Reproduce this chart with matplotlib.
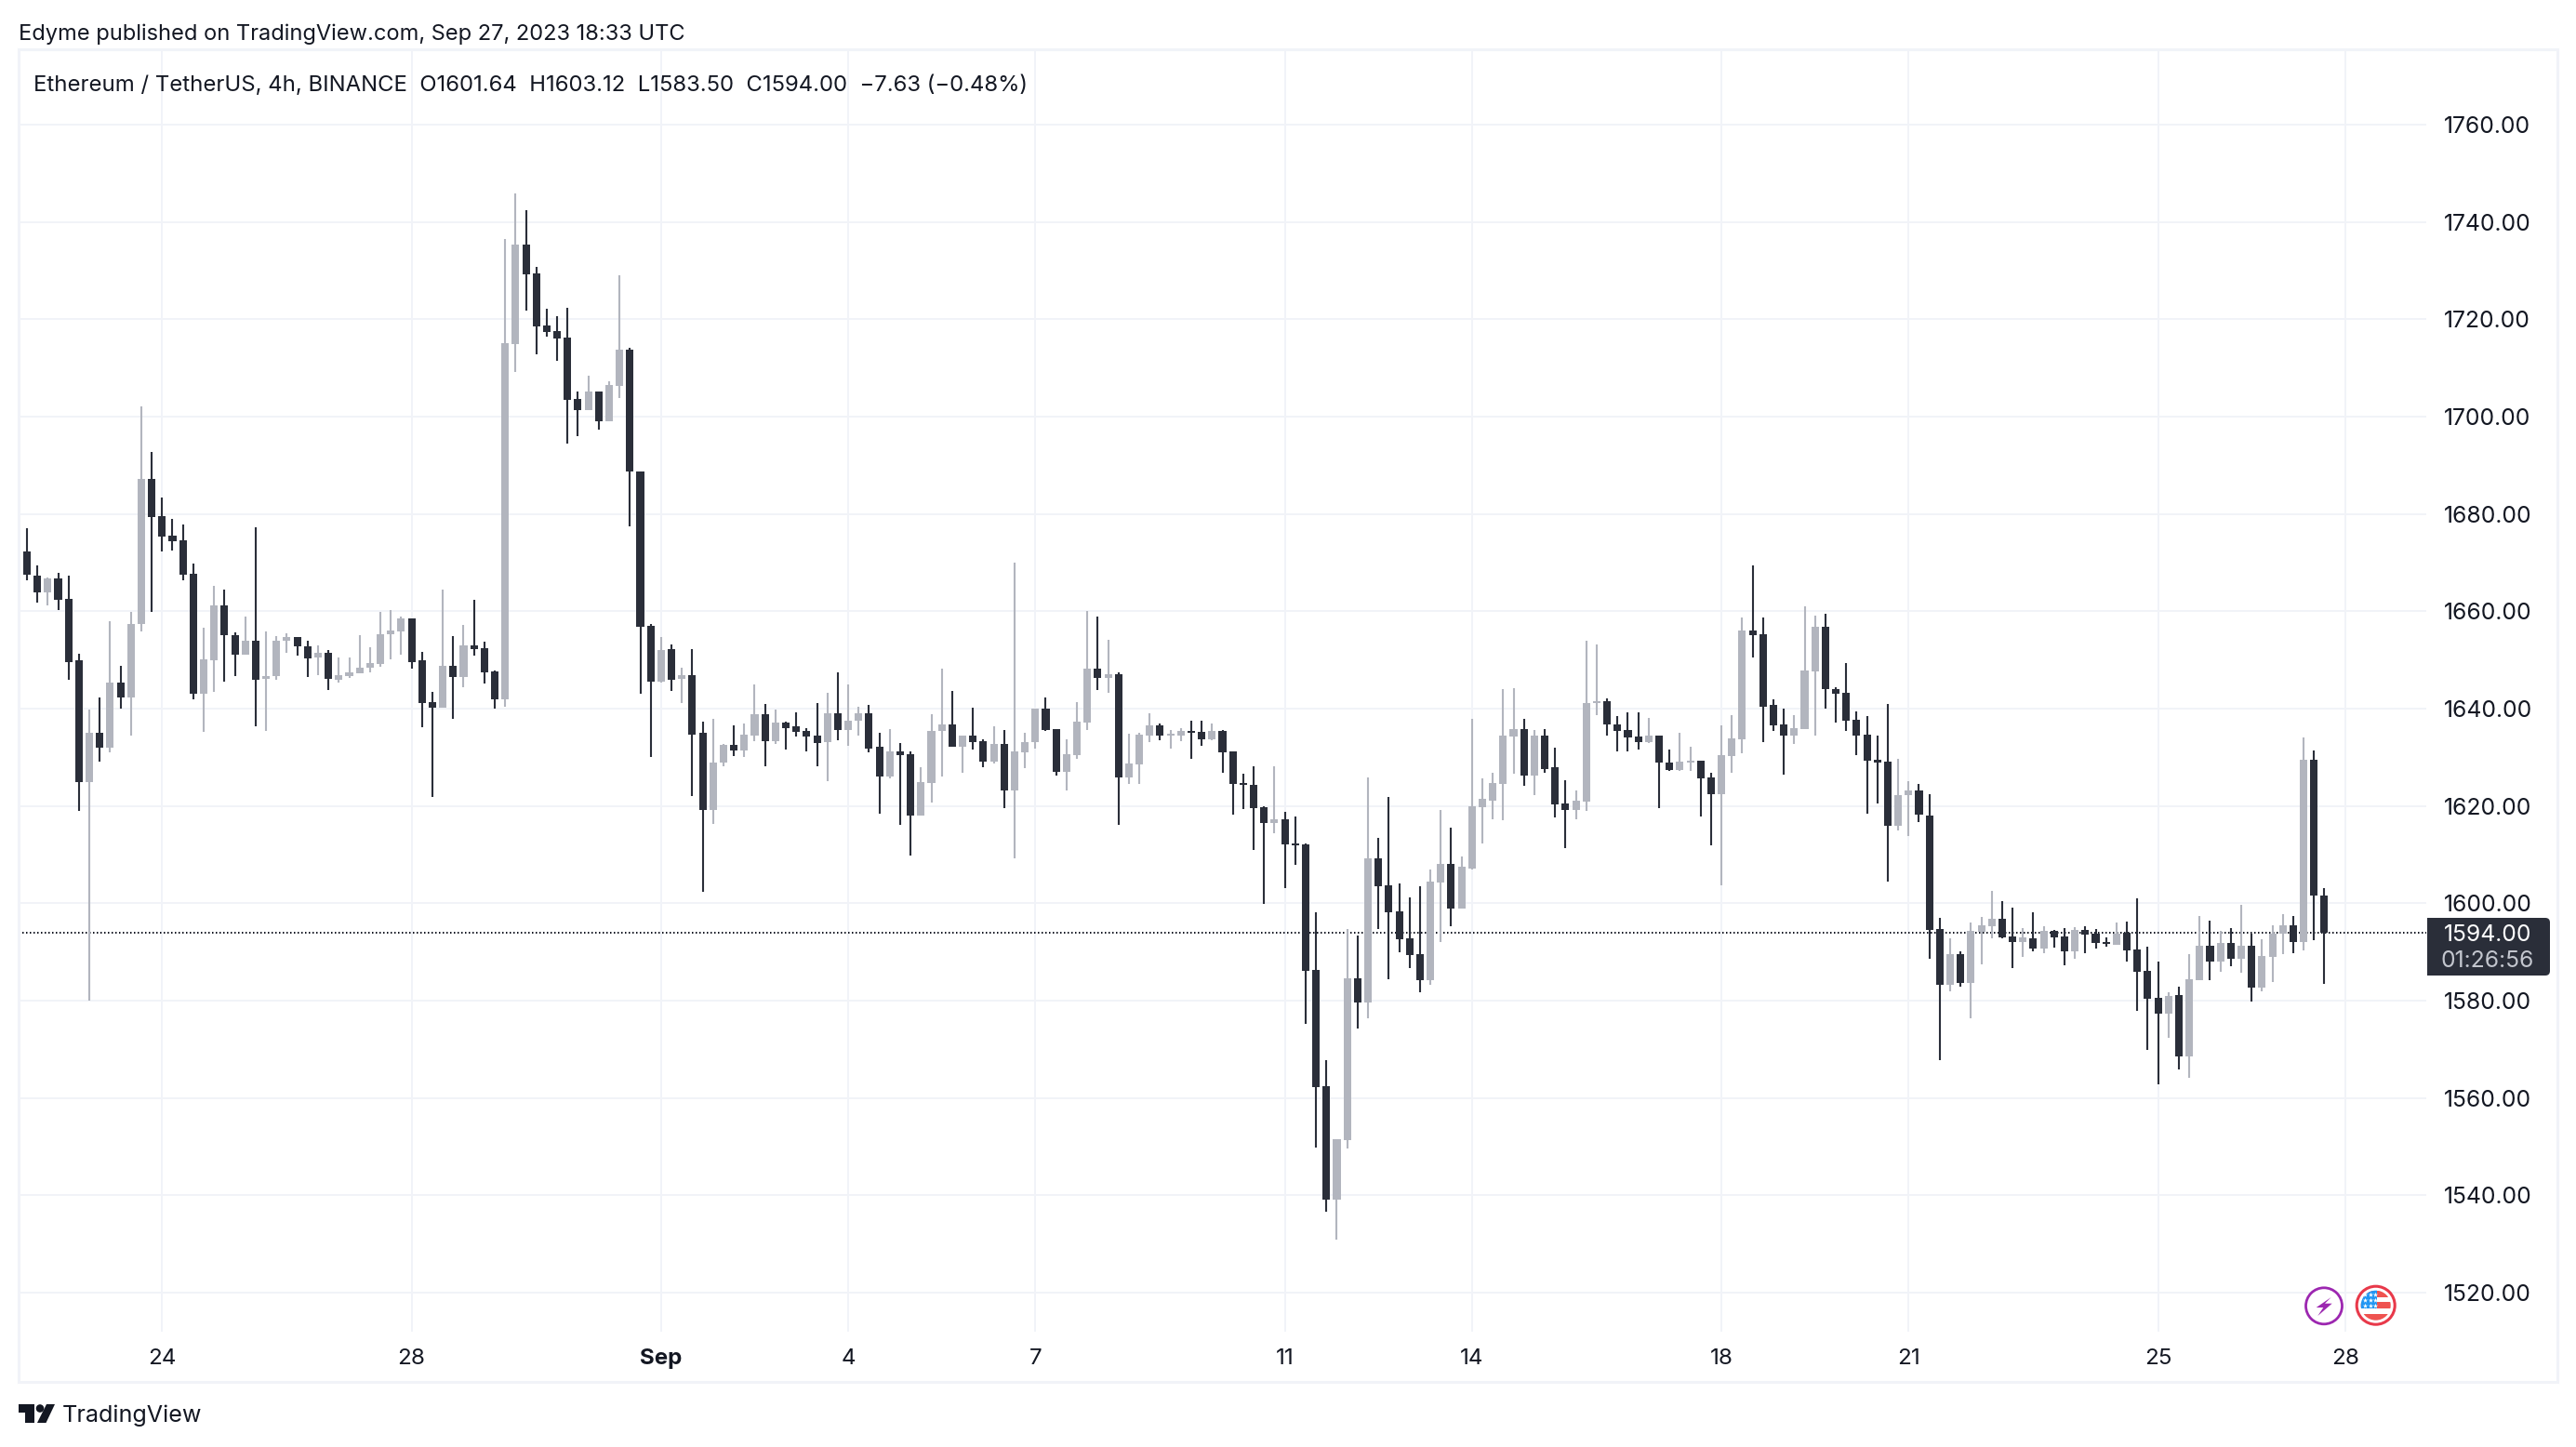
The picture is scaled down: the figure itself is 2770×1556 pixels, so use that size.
import numpy as np
import matplotlib
matplotlib.use('Agg')
import matplotlib.pyplot as plt
from matplotlib.patches import Circle, Polygon, Rectangle, FancyBboxPatch

plt.rcParams['font.family'] = ['Inter', 'DejaVu Sans']

# 4h candles, ten bars per row
opens = [
    1657.7, 1672.3, 1667.4, 1664.0, 1666.7, 1662.6, 1649.9, 1625.0, 1635.0, 1632.0,
    1645.3, 1642.4, 1657.4, 1687.3, 1679.6, 1675.6, 1674.7, 1667.8, 1643.1, 1649.9,
    1661.2, 1655.2, 1651.2, 1654.0, 1646.2, 1646.8, 1653.9, 1654.7, 1652.8, 1650.5,
    1651.5, 1646.0, 1646.7, 1647.2, 1648.5, 1649.2, 1655.3, 1655.9, 1658.5, 1649.9,
    1641.3, 1640.2, 1648.8, 1646.6, 1653.1, 1652.5, 1647.6, 1642.0, 1715.0, 1735.4,
    1729.5, 1718.7, 1717.6, 1716.3, 1703.7, 1701.4, 1705.2, 1699.1, 1706.3, 1713.8,
    1688.8, 1657.1, 1645.6, 1652.3, 1646.2, 1646.9, 1635.0, 1619.2, 1629.0, 1632.5,
    1631.4, 1634.5, 1638.8, 1633.4, 1637.2, 1636.3, 1635.5, 1634.4, 1633.1, 1639.0,
    1635.7, 1637.5, 1639.0, 1632.1, 1626.0, 1631.3, 1630.6, 1618.0, 1624.8, 1635.4,
    1636.7, 1632.1, 1634.4, 1633.4, 1629.2, 1632.7, 1623.3, 1631.1, 1633.1, 1640.1,
    1635.9, 1627.1, 1630.4, 1637.1, 1648.2, 1646.4, 1647.0, 1625.8, 1628.5, 1634.4,
    1636.5, 1634.4, 1634.4, 1635.4, 1635.2, 1633.8, 1635.5, 1631.3, 1624.8, 1624.3,
    1619.7, 1616.6, 1617.2, 1612.3, 1612.2, 1586.4, 1562.5, 1539.1, 1551.4, 1584.7,
    1579.6, 1609.3, 1603.8, 1598.4, 1592.9, 1589.6, 1584.2, 1604.3, 1608.1, 1599.0,
    1607.2, 1619.8, 1621.1, 1624.6, 1634.3, 1635.9, 1626.3, 1634.5, 1627.9, 1620.5,
    1619.2, 1621.0, 1641.1, 1641.6, 1636.8, 1635.6, 1634.3, 1633.2, 1634.4, 1629.0,
    1627.5, 1629.0, 1629.4, 1625.8, 1622.4, 1630.2, 1633.8, 1656.0, 1655.4, 1640.7,
    1636.7, 1634.4, 1635.9, 1647.6, 1656.9, 1644.1, 1643.2, 1637.8, 1634.6, 1629.6,
    1629.2, 1616.0, 1622.2, 1623.3, 1618.1, 1594.8, 1583.3, 1589.6, 1583.7, 1594.2,
    1595.4, 1596.9, 1593.2, 1592.1, 1592.9, 1590.8, 1594.4, 1593.2, 1590.2, 1594.6,
    1593.8, 1592.0, 1591.5, 1593.9, 1590.6, 1586.2, 1580.6, 1577.4, 1581.2, 1568.6,
    1584.3, 1591.3, 1588.1, 1591.9, 1588.7, 1591.3, 1582.7, 1589.0, 1593.8, 1595.5,
    1592.1, 1629.6, 1601.64,
]
highs = [
    1672.3, 1677.0, 1669.5, 1667.0, 1667.9, 1667.4, 1651.3, 1639.9, 1642.4, 1658.0,
    1648.8, 1659.9, 1702.2, 1692.7, 1683.4, 1679.0, 1677.9, 1669.8, 1656.6, 1665.2,
    1664.4, 1655.7, 1659.0, 1677.3, 1655.8, 1654.9, 1655.5, 1654.8, 1654.0, 1653.0,
    1652.0, 1650.6, 1650.6, 1655.2, 1652.7, 1659.9, 1660.3, 1658.9, 1658.5, 1651.6,
    1643.5, 1664.4, 1655.0, 1657.2, 1662.4, 1653.7, 1647.8, 1736.5, 1745.8, 1742.5,
    1730.8, 1722.2, 1720.6, 1722.3, 1705.2, 1708.4, 1705.2, 1707.2, 1729.0, 1714.1,
    1688.8, 1657.4, 1654.7, 1653.2, 1648.4, 1652.3, 1637.3, 1638.0, 1632.7, 1636.5,
    1637.0, 1645.0, 1640.9, 1639.8, 1637.3, 1639.2, 1636.0, 1641.1, 1643.3, 1647.5,
    1644.9, 1640.5, 1640.7, 1635.0, 1635.9, 1632.9, 1631.3, 1627.9, 1638.8, 1648.2,
    1643.6, 1634.4, 1640.3, 1633.8, 1636.3, 1635.7, 1670.1, 1635.0, 1640.1, 1642.4,
    1635.9, 1633.8, 1641.3, 1660.0, 1659.0, 1654.1, 1647.5, 1634.8, 1635.1, 1639.0,
    1637.0, 1635.7, 1636.0, 1637.5, 1637.5, 1636.9, 1635.7, 1631.3, 1626.6, 1628.2,
    1619.9, 1628.2, 1618.8, 1617.8, 1612.4, 1598.2, 1567.8, 1551.6, 1594.7, 1593.4,
    1625.9, 1613.5, 1621.9, 1604.1, 1601.2, 1603.5, 1607.0, 1619.2, 1615.5, 1609.6,
    1638.0, 1625.7, 1626.9, 1644.1, 1644.3, 1637.9, 1635.6, 1635.8, 1632.0, 1625.4,
    1623.3, 1654.0, 1653.2, 1642.1, 1638.5, 1639.2, 1639.2, 1638.2, 1634.4, 1631.7,
    1635.0, 1632.1, 1629.4, 1626.8, 1636.5, 1638.6, 1658.7, 1669.5, 1658.7, 1642.0,
    1640.0, 1638.6, 1661.1, 1659.2, 1659.6, 1644.5, 1649.3, 1639.4, 1638.4, 1634.4,
    1640.9, 1629.8, 1625.2, 1624.6, 1622.5, 1597.1, 1592.9, 1590.2, 1596.1, 1597.3,
    1602.6, 1600.5, 1599.2, 1595.0, 1598.2, 1595.4, 1594.6, 1595.0, 1595.2, 1595.4,
    1594.8, 1593.0, 1596.1, 1596.3, 1601.1, 1591.1, 1588.1, 1581.7, 1582.9, 1589.6,
    1597.5, 1596.5, 1594.3, 1595.0, 1599.7, 1593.8, 1592.7, 1595.5, 1597.8, 1597.4,
    1634.1, 1631.5, 1603.12,
]
lows = [
    1657.7, 1666.4, 1661.8, 1661.3, 1660.3, 1645.9, 1619.0, 1580.1, 1629.1, 1631.0,
    1640.0, 1634.5, 1655.8, 1659.9, 1672.4, 1672.6, 1666.4, 1642.0, 1635.3, 1643.5,
    1645.6, 1646.8, 1651.2, 1636.3, 1635.5, 1645.9, 1651.5, 1650.9, 1646.6, 1646.9,
    1643.9, 1645.4, 1646.3, 1647.2, 1647.5, 1648.6, 1650.1, 1651.2, 1648.3, 1636.2,
    1621.9, 1640.2, 1637.9, 1644.5, 1651.0, 1645.2, 1640.0, 1640.4, 1709.1, 1721.9,
    1712.9, 1716.4, 1711.4, 1694.4, 1696.1, 1701.4, 1697.4, 1699.1, 1703.8, 1677.5,
    1643.1, 1630.0, 1645.3, 1643.6, 1641.2, 1622.0, 1602.4, 1616.3, 1628.1, 1630.3,
    1630.1, 1633.4, 1628.2, 1632.8, 1631.7, 1634.2, 1631.2, 1628.2, 1625.2, 1633.5,
    1632.3, 1634.4, 1631.1, 1618.5, 1625.6, 1616.2, 1609.8, 1618.0, 1620.8, 1626.0,
    1632.1, 1626.9, 1631.7, 1627.9, 1628.7, 1619.5, 1609.2, 1627.7, 1631.9, 1635.4,
    1626.2, 1623.3, 1629.8, 1635.7, 1643.9, 1643.2, 1616.2, 1624.5, 1624.6, 1633.2,
    1633.6, 1631.9, 1633.4, 1629.8, 1632.3, 1633.6, 1626.8, 1618.2, 1619.3, 1611.0,
    1599.9, 1614.4, 1603.2, 1607.9, 1575.3, 1549.9, 1536.7, 1530.9, 1549.6, 1574.3,
    1576.3, 1594.8, 1584.4, 1589.9, 1586.8, 1581.8, 1583.2, 1592.1, 1595.4, 1599.0,
    1607.0, 1612.4, 1617.3, 1617.0, 1626.7, 1624.2, 1622.3, 1626.9, 1617.7, 1611.4,
    1617.3, 1619.1, 1638.7, 1634.4, 1631.3, 1631.3, 1631.7, 1632.9, 1619.5, 1627.3,
    1627.3, 1627.3, 1617.8, 1612.0, 1603.8, 1626.9, 1630.8, 1650.6, 1633.1, 1635.4,
    1626.4, 1632.7, 1635.9, 1634.4, 1640.1, 1637.1, 1635.5, 1630.4, 1618.5, 1620.6,
    1604.4, 1614.9, 1613.8, 1616.8, 1588.7, 1567.7, 1582.0, 1582.9, 1576.4, 1587.5,
    1592.9, 1592.9, 1586.8, 1589.0, 1590.2, 1589.8, 1591.0, 1587.3, 1588.7, 1589.8,
    1590.8, 1591.1, 1591.5, 1588.1, 1578.0, 1569.9, 1562.9, 1572.4, 1565.8, 1564.2,
    1584.3, 1584.3, 1586.0, 1587.1, 1585.7, 1579.9, 1582.0, 1583.9, 1589.6, 1589.8,
    1590.3, 1592.5, 1583.5,
]
closes = [
    1672.3, 1667.5, 1664.0, 1666.7, 1662.4, 1649.6, 1625.0, 1635.0, 1632.0, 1645.3,
    1642.4, 1657.5, 1687.3, 1679.4, 1675.4, 1674.4, 1667.5, 1643.1, 1650.1, 1661.2,
    1655.2, 1651.2, 1654.0, 1646.0, 1646.8, 1653.9, 1654.8, 1652.8, 1650.4, 1651.4,
    1646.2, 1646.9, 1647.4, 1648.5, 1649.3, 1655.3, 1656.0, 1658.5, 1649.6, 1641.2,
    1640.2, 1648.8, 1646.6, 1653.1, 1652.2, 1647.4, 1642.0, 1715.1, 1735.4, 1729.2,
    1718.6, 1717.4, 1716.0, 1703.5, 1701.4, 1705.2, 1699.1, 1706.5, 1713.8, 1688.8,
    1656.9, 1645.6, 1652.1, 1646.0, 1646.9, 1634.7, 1619.2, 1629.0, 1632.5, 1631.4,
    1634.7, 1638.8, 1633.4, 1637.1, 1636.1, 1635.3, 1634.2, 1633.0, 1639.0, 1635.7,
    1637.6, 1639.0, 1631.9, 1626.0, 1631.3, 1630.4, 1618.0, 1625.0, 1635.5, 1636.7,
    1632.1, 1634.4, 1633.2, 1629.2, 1632.7, 1623.3, 1631.3, 1633.2, 1640.1, 1635.7,
    1627.1, 1630.6, 1637.3, 1648.2, 1646.4, 1647.0, 1625.8, 1628.7, 1634.6, 1636.5,
    1634.4, 1634.8, 1635.4, 1635.0, 1633.8, 1635.5, 1631.1, 1624.6, 1624.3, 1619.6,
    1616.5, 1617.2, 1612.1, 1612.0, 1586.2, 1562.3, 1539.1, 1551.6, 1584.7, 1579.6,
    1609.3, 1603.5, 1598.2, 1592.7, 1589.4, 1584.2, 1604.5, 1608.1, 1599.0, 1607.5,
    1620.0, 1621.4, 1624.8, 1634.5, 1635.9, 1626.3, 1634.5, 1627.6, 1620.4, 1619.2,
    1621.1, 1641.2, 1641.6, 1636.7, 1635.4, 1634.1, 1633.1, 1634.4, 1628.9, 1627.5,
    1629.2, 1629.4, 1625.6, 1622.4, 1630.4, 1634.0, 1656.0, 1655.2, 1640.5, 1636.5,
    1634.4, 1636.1, 1647.8, 1656.9, 1644.0, 1643.0, 1637.6, 1634.4, 1629.4, 1629.0,
    1616.0, 1622.2, 1623.3, 1618.2, 1594.6, 1583.3, 1589.6, 1583.7, 1594.4, 1595.5,
    1596.9, 1593.1, 1592.1, 1593.1, 1590.8, 1594.4, 1593.1, 1590.2, 1594.6, 1593.6,
    1591.9, 1591.6, 1593.8, 1590.4, 1586.0, 1580.4, 1577.4, 1581.0, 1568.6, 1584.5,
    1591.3, 1588.1, 1591.9, 1588.7, 1591.3, 1582.7, 1589.2, 1593.8, 1595.5, 1592.1,
    1629.6, 1601.64, 1594.0,
]

price_ticks = [1520, 1540, 1560, 1580, 1600, 1620, 1640, 1660, 1680, 1700, 1720, 1740, 1760]
date_bars = [14, 38, 62, 80, 98, 122, 140, 164, 182, 206, 224]  # bar number of midnight on each labelled day
date_labels = ['24', '28', 'Sep', '4', '7', '11', '14', '18', '21', '25', '28']
last_price = 1594.00
countdown = '01:26:56'
byline = 'Edyme published on TradingView.com, Sep 27, 2023 18:33 UTC'
legend_text = ('Ethereum / TetherUS, 4h, BINANCE  O1601.64  H1603.12  L1583.50  C1594.00'
               '  \u22127.63 (\u22120.48%)')

UP = '#b2b5be'
DOWN = '#2a2e39'
GRID = '#f1f3f8'
INK = '#131722'

W, H = 2770, 1556
fig = plt.figure(figsize=(W / 100, H / 100), dpi=100, facecolor='white')

# pane in pixels: left 20, right 2609, top 53, bottom 1432
ax = fig.add_axes([20 / W, 1 - 1432 / H, (2609 - 20) / W, (1432 - 53) / H])
ax.set_xlim(0.197, 231.8)
ax.set_ylim(1512.0, 1775.5)
for s in ax.spines.values():
    s.set_visible(False)

ax.set_yticks(price_ticks)
ax.set_yticklabels(['%.2f' % p for p in price_ticks], fontsize=17.8, color=INK)
ax.yaxis.tick_right()
ax.set_xticks(date_bars)
ax.set_xticklabels(date_labels, fontsize=17.4, color=INK)
ax.xaxis.get_ticklabels()[2].set_fontweight('bold')
ax.tick_params(axis='both', length=0)
ax.tick_params(axis='y', pad=13.5)
ax.tick_params(axis='x', pad=13)
ax.grid(True, color=GRID, linewidth=1.44)
ax.set_axisbelow(True)

bars = np.arange(len(opens))
o, h, l, c = map(np.array, (opens, highs, lows, closes))
colors = [UP if c[i] >= o[i] else DOWN for i in bars]

ax.axhline(last_price, color=INK, linewidth=1.44, linestyle=(0, (0.75, 1.25)), zorder=1.5)
ax.vlines(bars, l, h, colors=colors, linewidth=1.5, zorder=2)
ax.bar(bars, np.abs(c - o), bottom=np.minimum(o, c), width=0.72, color=colors, linewidth=0, zorder=3)

# everything around the pane, in pixel coordinates
ov = fig.add_axes([0, 0, 1, 1], zorder=5)
ov.set_xlim(0, W)
ov.set_ylim(H, 0)
ov.axis('off')

ov.add_patch(Rectangle((20, 53), 2730, 1433, fill=False, edgecolor=GRID, linewidth=2.2))
ov.text(20, 37, byline, fontsize=17.0, color=INK, va='center', ha='left')
ov.text(36, 92, legend_text, fontsize=17.2, color=INK, va='center', ha='left')

# last price badge
ov.add_patch(FancyBboxPatch((2612, 989), 128, 58, boxstyle='round,pad=2,rounding_size=5',
                            facecolor=DOWN, edgecolor='none'))
ov.add_patch(Rectangle((2610, 987), 10, 62, facecolor=DOWN, edgecolor='none'))
ov.text(2675, 1005.5, '%.2f' % last_price, fontsize=17.8, color='white', va='center', ha='center')
ov.text(2675, 1033, countdown, fontsize=17.8, color='#c3c6ce', va='center', ha='center')

# lightning icon
ov.add_patch(Circle((2499, 1404.3), 19.5, facecolor='white', edgecolor='#9c27b0', linewidth=2))
ov.add_patch(Polygon([(2506.7, 1395), (2490.7, 1406), (2498.3, 1406), (2492.3, 1415),
                      (2507.7, 1401.7), (2500, 1401.7)], closed=True, facecolor='#9c27b0', edgecolor='none'))

# US flag icon
ov.add_patch(Circle((2554.7, 1403.7), 20.5, facecolor='white', edgecolor='#e8394a', linewidth=2.2))
flag_clip = Circle((2554.7, 1403.7), 16, transform=ov.transData)
for y0, y1 in [(1388, 1395), (1400, 1407), (1413, 1420)]:
    stripe = Rectangle((2535, y0), 40, y1 - y0, facecolor='#ef5350', edgecolor='none')
    ov.add_patch(stripe)
    stripe.set_clip_path(flag_clip)
canton = Rectangle((2535, 1386), 21, 21, facecolor='#2196f3', edgecolor='none')
ov.add_patch(canton)
canton.set_clip_path(flag_clip)
star_x = [2543, 2548.5, 2553.5] * 3
star_y = [1392] * 3 + [1398] * 3 + [1403.5] * 3
ov.scatter(star_x, star_y, marker='*', s=16, color='white', linewidths=0, zorder=4)

# TradingView logo
ov.add_patch(Polygon([(19.5, 1510), (37, 1510), (37, 1530), (27, 1530), (27, 1519), (19.5, 1519)],
                     closed=True, facecolor=INK, edgecolor='none'))
ov.add_patch(Circle((43, 1514.5), 4.3, facecolor=INK, edgecolor='none'))
ov.add_patch(Polygon([(50, 1510), (59, 1510), (49.5, 1530), (40, 1530)], closed=True,
                     facecolor=INK, edgecolor='none'))
ov.text(67, 1522.5, 'TradingView', fontsize=18.1, color=INK, va='center', ha='left')

fig.savefig('out.png', dpi=100, facecolor='white')
